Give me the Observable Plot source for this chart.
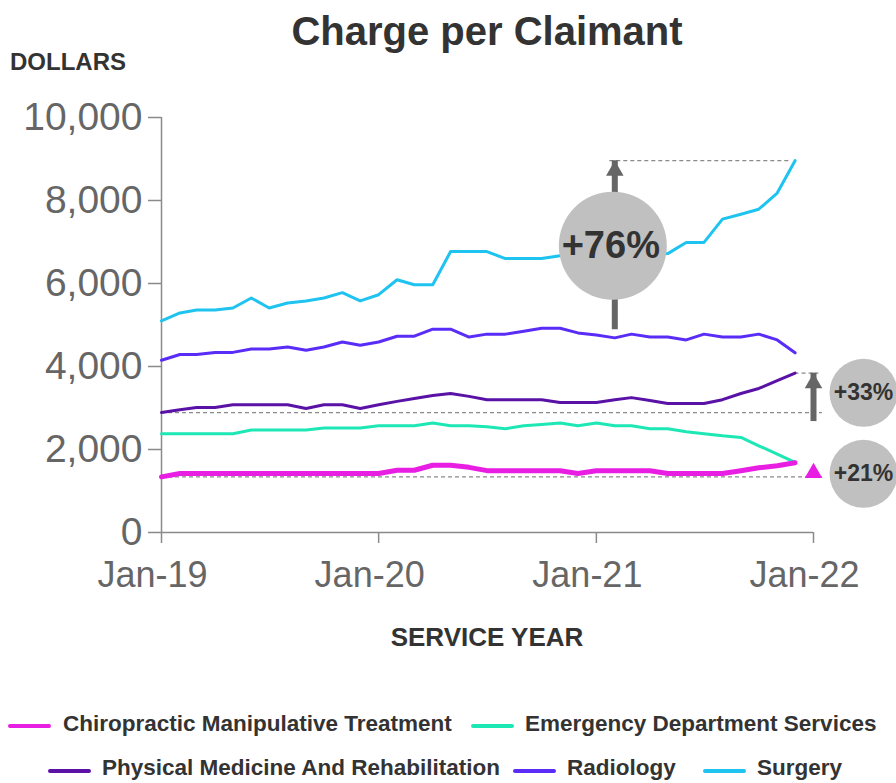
<!DOCTYPE html>
<html>
<head>
<meta charset="utf-8">
<script src="https://cdn.jsdelivr.net/npm/d3@7"></script>
<script src="https://cdn.jsdelivr.net/npm/@observablehq/plot@0.6"></script>
<style>
  body { margin: 0; background: #fff; }
  #wrap { position: relative; width: 896px; height: 783px; overflow: hidden; font-family: "Liberation Sans", Arial, sans-serif; color: #333; }
  #chart { position: absolute; left: 0; top: 0; }
  .t { position: absolute; line-height: 1; white-space: nowrap; font-weight: bold; color: #333; }
  .sw { position: absolute; height: 4px; width: 43px; border-radius: 2px; }
</style>
</head>
<body>
<div id="wrap">
  <div id="chart"></div>
  <div class="t" style="left:0;width:974px;text-align:center;top:11px;font-size:40px;">Charge per Claimant</div>
  <div class="t" style="left:10px;top:50px;font-size:24px;">DOLLARS</div>
  <div class="t" style="left:0;width:974px;text-align:center;top:624px;font-size:26px;">SERVICE YEAR</div>
  <div id="legend"></div>
</div>
<script>
// ---------- data ----------
const seriesNames = [
  "Chiropractic Manipulative Treatment",
  "Emergency Department Services",
  "Physical Medicine And Rehabilitation",
  "Radiology",
  "Surgery"
];
const seriesColors = ["#e81ee3", "#1de8b5", "#5a12a6", "#5a2cf8", "#1ec3ef"];

const chiropractic = [1340,1420,1420,1420,1420,1420,1420,1420,1420,1420,1420,1420,1420,1500,1500,1620,1620,1570,1490,1490,1490,1490,1490,1420,1490,1490,1490,1490,1420,1420,1420,1420,1490,1560,1610,1680];
const emergency = [2380,2380,2380,2380,2380,2470,2470,2470,2470,2520,2520,2520,2570,2570,2570,2640,2570,2570,2550,2500,2570,2600,2640,2570,2640,2570,2570,2500,2500,2430,2380,2330,2290,2090,1890,1690];
const physical = [2890,2960,3010,3010,3080,3080,3080,3080,2990,3080,3080,2990,3080,3160,3230,3300,3350,3280,3200,3200,3200,3200,3130,3130,3130,3200,3250,3180,3110,3110,3110,3200,3350,3470,3660,3840];
const radiology = [4150,4290,4290,4340,4340,4420,4420,4470,4390,4470,4590,4510,4590,4730,4730,4900,4900,4710,4780,4780,4850,4920,4920,4810,4760,4690,4780,4710,4710,4640,4780,4710,4710,4780,4640,4330];
const surgery = [5100,5290,5360,5360,5410,5650,5410,5530,5580,5650,5780,5580,5730,6090,5970,5970,6770,6770,6770,6600,6600,6600,6670,6700,6750,6800,6750,6700,6720,6990,6990,7550,7670,7790,8180,8960];

const yTicks = [0, 2000, 4000, 6000, 8000, 10000];
const xTickLabels = ["Jan-19", "Jan-20", "Jan-21", "Jan-22"];
const changeLabels = ["+76%", "+33%", "+21%"];

// ---------- build ----------
const start = new Date(Date.UTC(2019, 0, 1));
const end = new Date(Date.UTC(2022, 0, 1));
const months = d3.utcMonth.range(start, end); // Jan-19 .. Dec-21
const xTicks = d3.utcYear.range(start, d3.utcDay.offset(end, 1));
const seriesValues = [chiropractic, emergency, physical, radiology, surgery];
const rows = seriesNames.flatMap((s, k) => seriesValues[k].map((v, i) => ({series: s, date: months[i], value: v})));
const last = months.length - 1;
const beyond = d3.utcDay.offset(end, 15);
const beyondShort = d3.utcDay.offset(end, 9);
const arrowDate = months[25];

const dashStyle = {stroke: "#8a8a8a", strokeWidth: 1.3, strokeDasharray: "4,3"};
const headR = 6.5;
const xLabel = d => xTickLabels[xTicks.findIndex(t => +t === +d)];

const plot = Plot.plot({
  width: 896,
  height: 660,
  marginTop: 117,
  marginBottom: 128,
  marginLeft: 161,
  marginRight: 83,
  style: {fontFamily: "'Liberation Sans', Arial, sans-serif", background: "transparent", overflow: "visible"},
  x: {type: "utc", domain: [start, end]},
  y: {domain: [0, 10000]},
  color: {domain: seriesNames, range: seriesColors},
  marks: [
    // axes
    Plot.axisY({ticks: yTicks, tickSize: 13, tickPadding: 6, fontSize: 39, fill: "#666", stroke: "#8a8a8a", strokeWidth: 1.5, tickFormat: d3.format(","), label: null}),
    Plot.axisX({ticks: xTicks, tickSize: 11, stroke: "#8a8a8a", strokeWidth: 1.5, tickFormat: () => "", label: null}),
    Plot.axisX({ticks: xTicks, tickSize: 0, tickPadding: 29, fontSize: 36, fill: "#666", dx: -9, tickFormat: xLabel, label: null}),
    Plot.ruleX([start], {y1: 0, y2: 10000, stroke: "#8a8a8a", strokeWidth: 1.5}),
    Plot.ruleY([0], {x1: start, x2: end, stroke: "#8a8a8a", strokeWidth: 1.5}),

    // dashed reference lines
    Plot.ruleY([surgery[last]], {x1: arrowDate, x2: months[last], ...dashStyle, dx: -5}),
    Plot.ruleY([physical[0]], {x1: start, x2: beyond, ...dashStyle}),
    Plot.ruleY([physical[last]], {x1: months[last], x2: beyondShort, ...dashStyle}),
    Plot.ruleY([chiropractic[0]], {x1: start, x2: beyond, ...dashStyle}),

    // series lines
    Plot.line(rows.filter(d => d.series !== seriesNames[0]), {x: "date", y: "value", z: "series", stroke: "series", strokeWidth: 3, strokeLinejoin: "round"}),
    Plot.line(rows.filter(d => d.series === seriesNames[0]), {x: "date", y: "value", stroke: "series", strokeWidth: 5, strokeLinejoin: "round"}),

    // surgery annotation
    Plot.ruleX([arrowDate], {y1: surgery[0], y2: surgery[last], stroke: "#666", strokeWidth: 6, insetTop: 9}),
    Plot.dot([arrowDate], {x: d => d, y: () => surgery[last], symbol: "triangle", r: headR, fill: "#666", stroke: null, dy: 10}),
    Plot.dot([arrowDate], {x: d => d, y: () => (surgery[0] + surgery[last]) / 2, r: 54, fill: "#c0c0c0", stroke: null, dx: -2, dy: 5}),
    Plot.text([changeLabels[0]], {x: () => arrowDate, y: () => (surgery[0] + surgery[last]) / 2, text: d => d, fontSize: 38, fontWeight: "bold", fill: "#333", dx: -4, dy: 5}),

    // physical medicine annotation
    Plot.ruleX([end], {y1: physical[0], y2: physical[last], stroke: "#666", strokeWidth: 6, insetTop: 9}),
    Plot.dot([end], {x: d => d, y: () => physical[last], symbol: "triangle", r: headR, fill: "#666", stroke: null, dy: 10}),
    Plot.dot([end], {x: d => d, y: () => (physical[0] + physical[last]) / 2, r: 34, fill: "#c0c0c0", stroke: null, dx: 50}),
    Plot.text([changeLabels[1]], {x: () => end, y: () => (physical[0] + physical[last]) / 2, text: d => d, fontSize: 23, fontWeight: "bold", fill: "#333", dx: 50}),

    // chiropractic annotation
    Plot.dot([end], {x: d => d, y: () => (chiropractic[0] + chiropractic[last]) / 2, symbol: "triangle", r: headR, fill: seriesColors[0], stroke: null, dy: 3}),
    Plot.dot([end], {x: d => d, y: () => (chiropractic[0] + chiropractic[last]) / 2, r: 34, fill: "#c0c0c0", stroke: null, dx: 50, dy: 4}),
    Plot.text([changeLabels[2]], {x: () => end, y: () => (chiropractic[0] + chiropractic[last]) / 2, text: d => d, fontSize: 23, fontWeight: "bold", fill: "#333", dx: 50, dy: 4})
  ]
});
document.getElementById("chart").appendChild(plot);

// ---------- legend ----------
const legendPos = [
  {sw: 8, tx: 63, top: 713, swTop: 724},
  {sw: 471, tx: 525, top: 713, swTop: 724},
  {sw: 48, tx: 102, top: 757, swTop: 769},
  {sw: 513, tx: 567, top: 757, swTop: 769},
  {sw: 703, tx: 757, top: 757, swTop: 769}
];
const legend = document.getElementById("legend");
seriesNames.forEach((name, i) => {
  const p = legendPos[i];
  const sw = document.createElement("div");
  sw.className = "sw";
  sw.style.left = p.sw + "px";
  sw.style.top = p.swTop + "px";
  sw.style.background = seriesColors[i];
  legend.appendChild(sw);
  const t = document.createElement("div");
  t.className = "t";
  t.style.left = p.tx + "px";
  t.style.top = p.top + "px";
  t.style.fontSize = "22.5px";
  t.textContent = name;
  legend.appendChild(t);
});
</script>
</body>
</html>
